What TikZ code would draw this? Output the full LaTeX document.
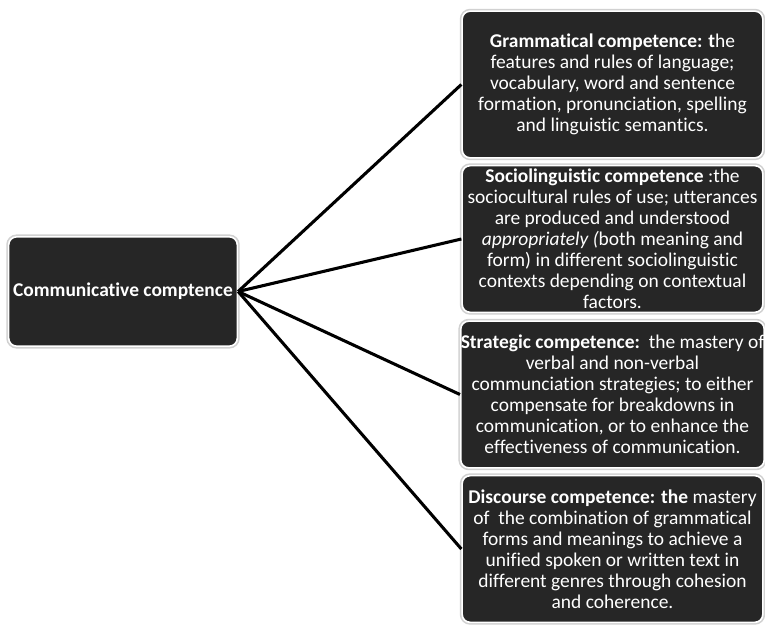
\documentclass[tikz,border=0pt]{standalone}
\usepackage{fontspec}
\setmainfont{Carlito}[Ligatures=NoCommon]
\tikzset{
  >=latex,
}
\tikzstyle{box}=[rounded corners=6pt,fill=black!85,draw=white,line width=1.2pt,
  preaction={draw=black!18,line width=3.6pt},text=white,align=center,
  font=\fontsize{14.6}{15.8}\selectfont]
\tikzstyle{rootbox}=[box,minimum width=171pt,minimum height=82pt]
\tikzstyle{leafbox}=[box,minimum width=225.5pt,minimum height=110pt,inner sep=0pt]
\tikzstyle{link}=[line width=2.3pt,black]

\begin{document}
\begin{tikzpicture}[x=0.75pt,y=-0.75pt]
    \useasboundingbox (0,0) rectangle (765,634);
    \node[rootbox] (comm) at (123,291.5) {\textbf{Communicative comptence}};
    \node[leafbox] (gram) at (612.5,84.5) {\textbf{Grammatical competence: t}he\\
      features and rules of language;\\
      vocabulary, word and sentence\\
      formation, pronunciation, spelling\\
      and linguistic semantics.};
    \node[leafbox] (socio) at (612.5,239) {\textbf{Sociolinguistic competence} :the\\
      sociocultural rules of use; utterances\\
      are produced and understood\\
      \textit{appropriately (}both meaning and\\
      form) in different sociolinguistic\\
      contexts depending on contextual\\
      factors.};
    \node[leafbox] (strat) at (612.5,394.5) {\textbf{Strategic competence:}\ \ the mastery of\\
      verbal and non-verbal\\
      communciation strategies; to either\\
      compensate for breakdowns in\\
      communication, or to enhance the\\
      effectiveness of communication.};
    \node[leafbox] (disc) at (612.5,549) {\textbf{Discourse competence: the} mastery\\
      of\ \ the combination of grammatical\\
      forms and meanings to achieve a\\
      unified spoken or written text in\\
      different genres through cohesion\\
      and coherence.};
    % links from the root to each competence
    \foreach \n in {gram,socio,strat,disc}
      \draw[link] (comm.east)--(\n.west);
  \end{tikzpicture}
\end{document}
